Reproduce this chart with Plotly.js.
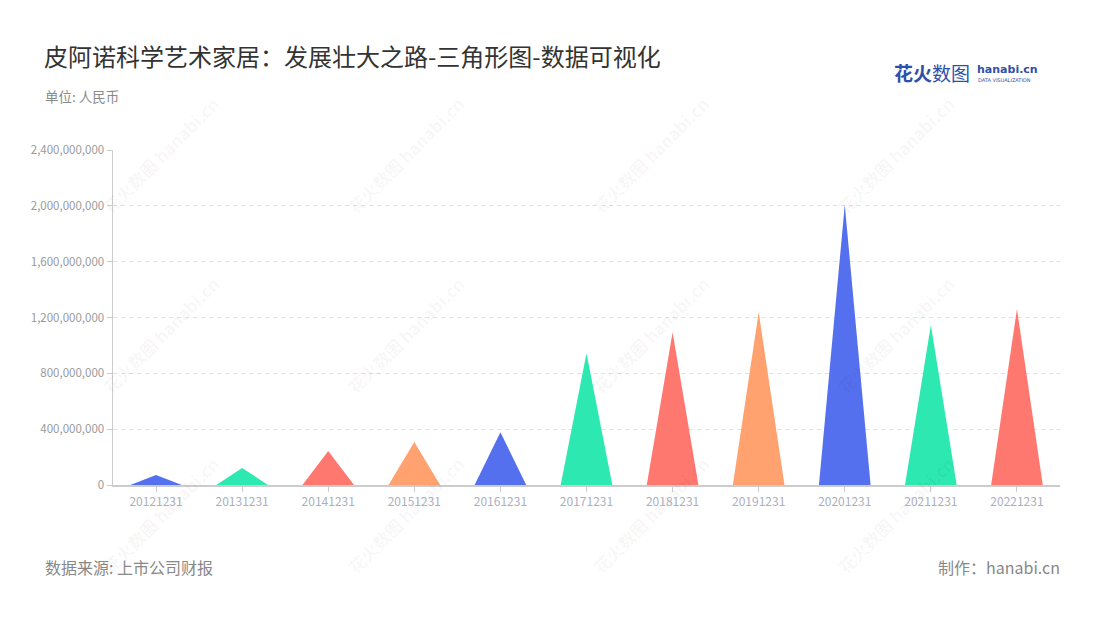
<!DOCTYPE html>
<html>
<head>
<meta charset="utf-8">
<script src="https://cdn.plot.ly/plotly-3.0.1.min.js"></script>
<style>
html,body{margin:0;padding:0;background:#fff;}
#chart{width:1100px;height:620px;}
</style>
</head>
<body>
<div id="chart"></div>
<script>
// Data
var categories = ["20121231","20131231","20141231","20151231","20161231","20171231","20181231","20191231","20201231","20211231","20221231"];
var values = [72000000, 122000000, 243000000, 308000000, 378000000, 943000000, 1094000000, 1237000000, 2006000000, 1146000000, 1261000000];
var palette = ["#5470ee", "#2de8b0", "#ff7870", "#ffa26f"];
var yTicks = [0, 400000000, 800000000, 1200000000, 1600000000, 2000000000, 2400000000];

var halfWidth = 0.3;
var FONT = "Noto Sans CJK SC, Noto Sans, sans-serif";

var traces = categories.map(function (c, i) {
  return {
    type: "scatter",
    mode: "lines",
    x: [i - halfWidth, i, i + halfWidth, i - halfWidth],
    y: [0, values[i], 0, 0],
    fill: "toself",
    fillcolor: palette[i % palette.length],
    line: {width: 0, color: palette[i % palette.length]},
    hoverinfo: "text",
    text: c + ": " + values[i].toLocaleString("en-US"),
    showlegend: false
  };
});

var W = 1100, H = 620;
var m = {l: 113, r: 40, t: 150, b: 135};
var pw = W - m.l - m.r, ph = H - m.t - m.b;
function px(x) { return (x - m.l) / pw; }
function py(y) { return (H - m.b - y) / ph; }

// watermark annotations
var wm = [];
[160, 405, 650, 895].forEach(function (x) {
  [155, 335, 515].forEach(function (y) {
    wm.push({
      xref: "paper", yref: "paper", x: px(x), y: py(y), showarrow: false,
      text: "<b>花火数图</b> <b>hanabi.cn</b>", textangle: -45,
      font: {family: FONT, size: 17, color: "rgba(0,0,0,0.045)"},
      xanchor: "center", yanchor: "middle"
    });
  });
});

var annotations = [
  {xref: "paper", yref: "paper", x: px(42), y: py(55), xanchor: "left", yanchor: "middle",
   showarrow: false, text: "皮阿诺科学艺术家居：发展壮大之路-三角形图-数据可视化",
   font: {family: FONT, size: 24, color: "#333333"}},
  {xref: "paper", yref: "paper", x: px(43), y: py(96), xanchor: "left", yanchor: "middle",
   showarrow: false, text: "单位: 人民币",
   font: {family: FONT, size: 13.5, color: "#8a8a8a"}},
  {xref: "paper", yref: "paper", x: px(43), y: py(567), xanchor: "left", yanchor: "middle",
   showarrow: false, text: "数据来源: 上市公司财报",
   font: {family: FONT, size: 16, color: "#888888"}},
  {xref: "paper", yref: "paper", x: px(1062), y: py(567), xanchor: "right", yanchor: "middle",
   showarrow: false, text: "制作：hanabi.cn",
   font: {family: FONT, size: 16, color: "#888888"}},
  // logo
  {xref: "paper", yref: "paper", x: px(892), y: py(72), xanchor: "left", yanchor: "middle",
   showarrow: false, text: "<b>花火</b>数图",
   font: {family: FONT, size: 19, color: "#2f4fa8"}},
  {xref: "paper", yref: "paper", x: px(975), y: py(69), xanchor: "left", yanchor: "middle",
   showarrow: false, text: "<b>hanabi.cn</b>",
   font: {family: "DejaVu Sans, sans-serif", size: 11, color: "#2f4fa8"}},
  {xref: "paper", yref: "paper", x: px(976), y: py(80), xanchor: "left", yanchor: "middle",
   showarrow: false, text: "DATA VISUALIZATION",
   font: {family: "DejaVu Sans, sans-serif", size: 5, color: "#2f4fa8"}}
].concat(wm);

var layout = {
  width: W, height: H,
  margin: m,
  paper_bgcolor: "#ffffff",
  plot_bgcolor: "#ffffff",
  font: {family: FONT},
  xaxis: {
    range: [-0.5, categories.length - 0.5],
    tickvals: categories.map(function (c, i) { return i; }),
    ticktext: categories,
    showgrid: false, zeroline: false,
    showline: true, linecolor: "#cccccc", linewidth: 1.5,
    ticks: "outside", ticklen: 5, tickcolor: "#cccccc",
    tickfont: {family: FONT, size: 12, color: "#aab0be"},
    fixedrange: true
  },
  yaxis: {
    range: [0, 2400000000],
    tickvals: yTicks,
    tickformat: ",d",
    showgrid: true, gridcolor: "#e0e0e0", griddash: "4px,4px", gridwidth: 1,
    zeroline: false,
    showline: true, linecolor: "#cccccc", linewidth: 1.5,
    ticks: "outside", ticklen: 5, tickcolor: "#cccccc",
    tickfont: {family: FONT, size: 11.5, color: "#999999"},
    fixedrange: true
  },
  annotations: annotations,
  showlegend: false
};

Plotly.newPlot("chart", traces, layout, {displayModeBar: false, staticPlot: true});
</script>
</body>
</html>
